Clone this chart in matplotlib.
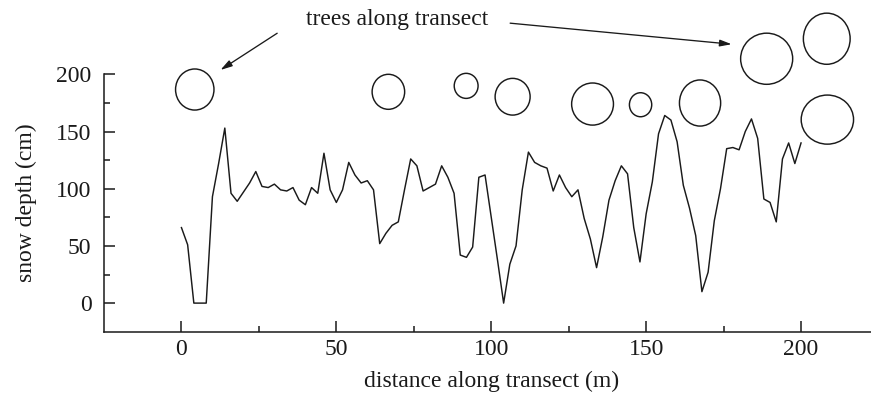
import matplotlib
matplotlib.use("Agg")
import matplotlib.pyplot as plt
from matplotlib.patches import Ellipse
import numpy as np

plt.rcParams["font.family"] = "serif"
plt.rcParams["font.serif"] = ["Liberation Serif", "DejaVu Serif"]

### snow depth along the transect, every 2 m
dist = np.arange(0, 201, 2)
depth = [66, 51, 0, 0, 0, 93, 122, 153, 96, 89,
         97, 105, 115, 102, 101, 104, 99, 98, 101, 90,
         86, 101, 96, 131, 99, 88, 99, 123, 112, 105,
         107, 99, 52, 61, 68, 71, 99, 126, 120, 98,
         101, 104, 120, 110, 96, 42, 40, 49, 110, 112,
         75, 38, 0, 34, 50, 99, 132, 123, 120, 118,
         98, 112, 101, 93, 99, 74, 56, 31, 58, 90,
         107, 120, 113, 66, 36, 78, 106, 148, 164, 160,
         141, 103, 83, 59, 10, 27, 72, 100, 135, 136,
         134, 150, 161, 144, 91, 88, 71, 126, 140, 122,
         140]

### trees (position m, height on plot cm, crown width m, crown height cm)
tree_x = [4.3, 66.8, 91.9, 106.9, 132.7, 148.2, 167.4, 188.9, 208.3, 208.5]
tree_y = [186.7, 184.7, 189.9, 180.4, 174.0, 173.4, 174.9, 213.6, 231.1, 160.4]
tree_w = [12.4, 10.5, 7.7, 11.3, 13.5, 7.2, 13.3, 16.8, 15.1, 16.9]
tree_h = [35.9, 30.6, 21.9, 32.1, 36.8, 21.0, 40.3, 44.7, 44.7, 42.9]

fig = plt.figure(figsize=(8.71, 4.01), dpi=100)
ax = fig.add_axes([0.1194, 0.1728, 0.8892, 0.6419])

ax.plot(dist, depth, color="#1a1a1a", linewidth=1.05)

for x, y, w, h in zip(tree_x, tree_y, tree_w, tree_h):
    e = Ellipse((x, y), w, h, facecolor="none", edgecolor="#1a1a1a", linewidth=1.05, clip_on=False)
    ax.add_patch(e)

ax.text(69.7, 247.5, "trees along transect", fontsize=17, ha="center", va="center", color="#1a1a1a")
arw = dict(arrowstyle="-|>,head_length=0.7,head_width=0.2", color="#1a1a1a", lw=0.95, shrinkA=0, shrinkB=0)
ax.annotate("", xy=(12.6, 203.8), xytext=(30.9, 235.9), arrowprops=arw, annotation_clip=False)
ax.annotate("", xy=(177.6, 226.3), xytext=(106.1, 244.7), arrowprops=arw, annotation_clip=False)

ax.set_xlim(-25, 225)
ax.set_ylim(-25, 200)
ax.set_xticks([0, 50, 100, 150, 200])
ax.set_xticks([25, 75, 125, 175], minor=True)
ax.set_yticks([0, 50, 100, 150, 200])
ax.set_yticks([25, 75, 125, 175], minor=True)

for s in ["top", "right"]:
    ax.spines[s].set_visible(False)
for s in ["left", "bottom"]:
    ax.spines[s].set_linewidth(1.1)
    ax.spines[s].set_color("#1a1a1a")

ax.tick_params(which="major", direction="in", length=8, width=1.1, labelsize=17, colors="#1a1a1a")
ax.tick_params(which="minor", direction="in", length=4.5, width=1.1, colors="#1a1a1a")
ax.tick_params(axis="x", which="major", pad=5)
ax.tick_params(axis="y", which="major", pad=9)

ax.set_xlabel("distance along transect (m)", fontsize=17, labelpad=8, color="#1a1a1a")
ax.set_ylabel("snow depth (cm)", fontsize=17, labelpad=14, color="#1a1a1a")

plt.savefig("out.png", dpi=100)
plt.close()
